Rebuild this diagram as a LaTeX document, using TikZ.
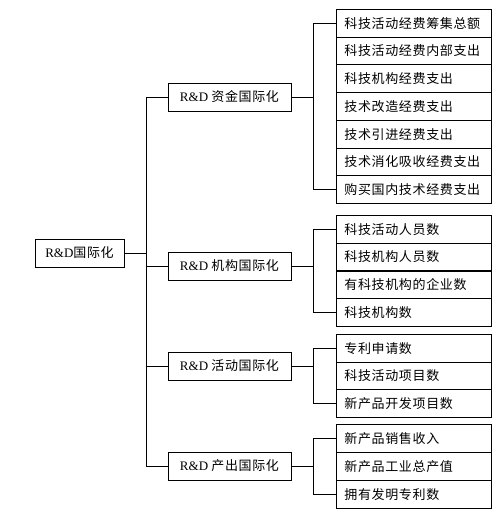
\documentclass[tikz,border=0pt]{standalone}
\usepackage{fontspec}
\setmainfont{Liberation Serif}
\newfontfamily\cjk[LetterSpace=5]{Noto Sans CJK SC}
\newcommand{\RD}{{\rmfamily R\&D}}
\begin{document}
\begin{tikzpicture}[x=1pt,y=-1pt,
  box/.style={draw, line width=0.8pt, minimum height=28pt, inner sep=0pt, font=\fontsize{13}{15}\selectfont},
  rowbox/.style={draw, line width=0.8pt, minimum width=155pt, minimum height=27.7pt, text width=139pt, inner xsep=8pt, inner ysep=0pt, align=left, font=\cjk\fontsize{13}{15}\selectfont, anchor=north west},
  link/.style={draw, line width=0.8pt}]
\useasboundingbox[fill=white] (0,0) rectangle (498,517);
% root
\node[box, minimum width=89pt] (root) at (79.5,253) {\RD{\cjk 国际化}};
% level 2
\node[box, minimum width=123pt] (l1) at (229.5,97) {\RD\ {\cjk 资金国际化}};
\node[box, minimum width=123pt] (l2) at (229.5,266) {\RD\ {\cjk 机构国际化}};
\node[box, minimum width=123pt] (l3) at (229.5,366) {\RD\ {\cjk 活动国际化}};
\node[box, minimum width=123pt] (l4) at (229.5,466) {\RD\ {\cjk 产出国际化}};
% rows
\foreach \t [count=\i] in {科技活动经费筹集总额,科技活动经费内部支出,科技机构经费支出,技术改造经费支出,技术引进经费支出,技术消化吸收经费支出,购买国内技术经费支出}
  \node[rowbox] (ga\i) at (336,{9+(\i-1)*27.71}) {\t};
\foreach \t [count=\i] in {科技活动人员数,科技机构人员数,有科技机构的企业数,科技机构数}
  \node[rowbox] (gb\i) at (336,{215+(\i-1)*27.75}) {\t};
\foreach \t [count=\i] in {专利申请数,科技活动项目数,新产品开发项目数}
  \node[rowbox] (gc\i) at (336,{334+(\i-1)*27.67}) {\t};
\foreach \t [count=\i] in {新产品销售收入,新产品工业总产值,拥有发明专利数}
  \node[rowbox] (gd\i) at (336,{424+(\i-1)*28}) {\t};
% trunk
\coordinate (t) at (146,0);
\coordinate (b) at (313,0);
\path[link] (root.east) -- (root.east -| t);
\path[link] (l1.west -| t) -- (l4.west -| t);
\foreach \n in {l1,l2,l3,l4} \path[link] (\n.west -| t) -- (\n.west);
% branches
\foreach \n/\f/\l in {l1/ga1/ga7, l2/gb1/gb4, l3/gc1/gc3, l4/gd1/gd3} {
  \path[link] (\n.east) -- (\n.east -| b);
  \path[link] (\f.west -| b) -- (\l.west -| b);
  \path[link] (\f.west -| b) -- (\f.west);
  \path[link] (\l.west -| b) -- (\l.west);
}
\end{tikzpicture}
\end{document}
